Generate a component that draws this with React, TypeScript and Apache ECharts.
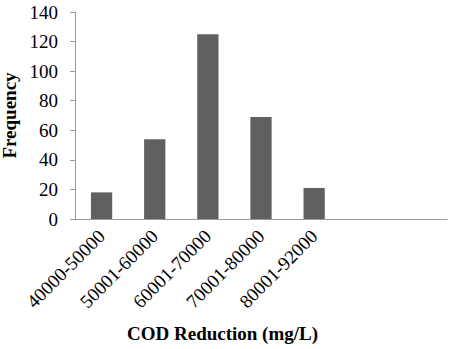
import React, { useEffect, useRef } from "react";
import * as echarts from "echarts";

const categories = ["40000-50000", "50001-60000", "60001-70000", "70001-80000", "80001-92000", "", ""];
const frequency = [18, 54, 125, 69, 21, null, null];
const yTicks = { min: 0, max: 140, interval: 20 };

const FONT = "'Liberation Serif', 'Times New Roman', serif";

export default function App() {
  const ref = useRef<HTMLDivElement>(null);
  useEffect(() => {
    if (!ref.current) return;
    const chart = echarts.init(ref.current, null, { renderer: "svg" });
    chart.setOption({
      animation: false,
      grid: {
        left: 75,
        top: 12,
        right: 6,
        bottom: 130,
        containLabel: false,
        outerBoundsMode: "none",
      },
      xAxis: {
        type: "category",
        data: categories,
        boundaryGap: true,
        axisLine: { lineStyle: { color: "#9a9a9a", width: 1 } },
        axisTick: { show: false },
        axisLabel: {
          rotate: 45,
          interval: 0,
          margin: 14,
          color: "#000",
          fontFamily: FONT,
          fontSize: 19,
          hideOverlap: false,
        },
      },
      yAxis: {
        type: "value",
        min: yTicks.min,
        max: yTicks.max,
        interval: yTicks.interval,
        splitLine: { show: false },
        axisLine: { show: true, lineStyle: { color: "#9a9a9a", width: 1 } },
        axisTick: { show: true, length: 5, lineStyle: { color: "#9a9a9a" } },
        axisLabel: { margin: 17, color: "#000", fontFamily: FONT, fontSize: 19 },
        name: "Frequency",
        nameLocation: "middle",
        nameGap: 55,
        nameTextStyle: { fontFamily: FONT, fontSize: 19, fontWeight: "bold", color: "#000" },
      },
      graphic: [
        {
          type: "text",
          left: 127,
          top: 324,
          style: {
            text: "COD Reduction (mg/L)",
            font: `bold 19px ${FONT}`,
            fill: "#000",
          },
        },
      ],
      series: [
        {
          type: "bar",
          data: frequency,
          barWidth: "40%",
          itemStyle: { color: "#606060" },
        },
      ],
    });
    return () => chart.dispose();
  }, []);
  return (
    <div
      ref={ref}
      style={{ position: "absolute", left: 0, top: 0, width: 453, height: 349 }}
    />
  );
}
